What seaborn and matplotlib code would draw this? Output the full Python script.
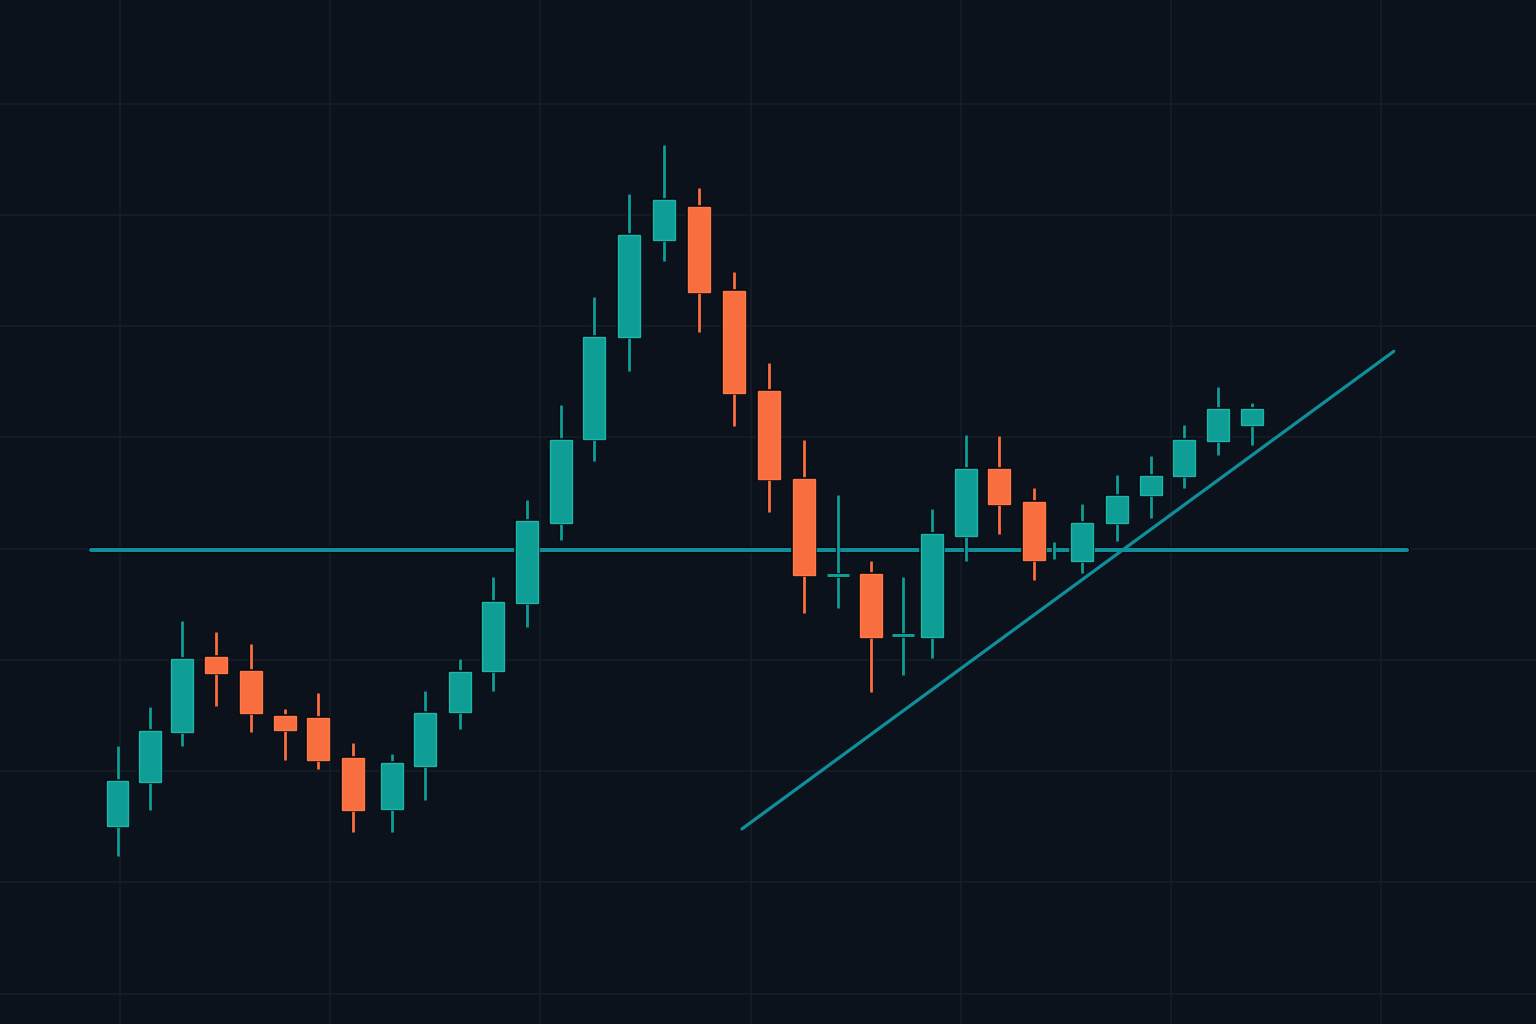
import numpy as np
import pandas as pd
import seaborn as sns
import matplotlib
matplotlib.use("Agg")
import matplotlib.pyplot as plt
import matplotlib.patheffects as pe
from matplotlib.ticker import MultipleLocator

# ---------------- data ----------------
t = [-0.1, 1.44, 2.98, 4.59, 6.23, 7.86, 9.44, 11.09, 12.93, 14.53,
     16.18, 17.77, 19.35, 20.97, 22.57, 24.2, 25.87, 27.55, 29.21, 30.89,
     32.55, 34.17, 35.74, 37.23, 38.64, 40.23, 41.83, 43.46, 44.43, 45.77,
     47.41, 49.03, 50.61, 52.24, 53.86]
open_ = [75.1, 79.0, 83.5, 90.3, 89.0, 85.0, 84.8, 81.2, 76.6, 80.5,
         85.3, 89.0, 95.1, 102.3, 109.9, 119.0, 127.8, 130.7, 123.2, 114.2,
         106.3, 97.6, 97.7, 92.2, 92.1, 101.1, 107.2, 104.2, np.nan, 98.9,
         102.3, 104.8, 106.5, 109.7, 111.1]
high = [82.3, 85.8, 93.5, 92.5, 91.4, 85.6, 87.0, 82.5, 81.5, 87.2,
        90.1, 97.5, 104.4, 112.9, 122.6, 131.9, 136.3, 132.4, 124.9, 116.7,
        109.8, 104.8, 98.9, 97.5, 103.6, 110.2, 110.1, 105.5, 100.6, 104.0,
        106.6, 108.3, 111.1, 114.5, 113.1]
low = [72.4, 76.5, 82.3, 85.9, 83.5, 81.0, 80.2, 74.5, 74.5, 77.4,
       83.8, 87.2, 93.0, 100.8, 107.9, 116.0, 125.9, 119.5, 111.0, 103.3,
       94.2, 94.7, 87.1, 88.6, 90.2, 98.9, 101.3, 97.2, 99.1, 97.8,
       100.7, 102.8, 105.5, 108.4, 109.3]
close = [79.1, 83.6, 90.1, 88.8, 85.2, 83.7, 81.0, 76.5, 80.7, 85.2,
         88.9, 95.2, 102.5, 109.8, 119.0, 128.2, 131.4, 123.1, 114.0, 106.3,
         97.6, 97.6, 92.1, 92.2, 101.3, 107.2, 104.0, 99.0, np.nan, 102.3,
         104.7, 106.5, 109.8, 112.6, 112.6]

support_t = [-1.36, 61.2]
support_y = [99.88, 99.88]
trend_t = [29.59, 60.59]
trend_y = [74.8, 117.75]

df = pd.DataFrame({"t": t, "open": open_, "high": high, "low": low, "close": close})

# ---------------- style ----------------
BG = "#0c121c"
GRID = "#161e29"
UP = "#0e9e96"
UP_EDGE = "#1fb5ab"
DOWN = "#f86e3f"
DOWN_EDGE = "#ff7a4a"
LINE = "#0f8f9c"

sns.set_theme(style="dark", rc={
    "axes.facecolor": BG,
    "figure.facecolor": BG,
    "grid.color": GRID,
    "axes.grid": True,
})

fig = plt.figure(figsize=(15.36, 10.24), dpi=100)
ax = fig.add_axes([0, 0, 1, 1])
ax.set_facecolor(BG)

ax.set_xlim(-5.69, 67.35)
ax.set_ylim(57.26, 149.34)
ax.xaxis.set_major_locator(MultipleLocator(10))
ax.yaxis.set_major_locator(MultipleLocator(10))
ax.grid(True, color=GRID, linewidth=1.1, zorder=0)
ax.set_axisbelow(True)
ax.tick_params(left=False, bottom=False, labelleft=False, labelbottom=False)
for s in ax.spines.values():
    s.set_visible(False)

shadow = [pe.Stroke(linewidth=4.6, foreground="#05080d"), pe.Normal()]
# support / trend lines via seaborn
sns.lineplot(x=support_t, y=support_y, ax=ax, color=LINE, linewidth=2.9,
             zorder=2, path_effects=shadow)
sns.lineplot(x=trend_t, y=trend_y, ax=ax, color=LINE, linewidth=2.3,
             zorder=2, solid_capstyle="round")

width = 1.04
for _, r in df.iterrows():
    o, h, l, c = r["open"], r["high"], r["low"], r["close"]
    if np.isnan(o):
        col = UP
    else:
        col = UP if c >= o else DOWN
    edge = UP_EDGE if col == UP else DOWN_EDGE
    ax.vlines(r["t"], l, h, color=col, linewidth=2.0, zorder=3,
              path_effects=[pe.Stroke(linewidth=3.1, foreground="#070a10"), pe.Normal()])
    if np.isnan(o):
        continue
    if abs(c - o) < 0.05:
        ax.hlines(o, r["t"] - width / 2, r["t"] + width / 2, color=col,
                  linewidth=2.2, zorder=4,
                  path_effects=[pe.Stroke(linewidth=3.4, foreground="#070a10"), pe.Normal()])
    else:
        ax.bar(r["t"], abs(c - o), bottom=min(o, c), width=width, color=col,
               edgecolor=edge, linewidth=1.0, zorder=4,
               path_effects=[pe.Stroke(linewidth=2.6, foreground="#070a10"), pe.Normal()])

fig.savefig("out.png", dpi=100, facecolor=BG)
